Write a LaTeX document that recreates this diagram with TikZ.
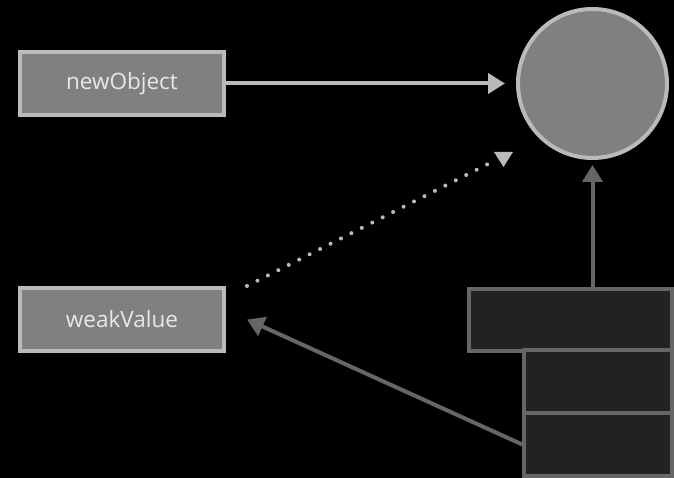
\documentclass[tikz,border=0pt]{standalone}
\usepackage{fontspec}
\setmainfont{Open Sans}
\usetikzlibrary{arrows.meta}
\definecolor{objFill}{HTML}{808080}
\definecolor{objEdge}{HTML}{BABABA}
\definecolor{labelText}{HTML}{E8E8E8}
\definecolor{frameFill}{HTML}{222222}
\definecolor{frameEdge}{HTML}{666666}

\begin{document}
\begin{tikzpicture}[x=1pt, y=-1pt, font=\fontsize{22.5}{27}\selectfont,
  varbox/.style={draw=objEdge, fill=objFill, line width=4pt, text=labelText,
    minimum width=204pt, minimum height=63pt, inner sep=0pt},
  frame/.style={draw=frameEdge, fill=frameFill, line width=4pt,
    minimum width=148pt, minimum height=63pt, inner sep=0pt},
  strongref/.style={line width=4pt, -{Triangle[length=17pt,width=20pt]}}]
  \fill[black] (0,0) rectangle (674,478);
  \useasboundingbox (0,0) rectangle (674,478);

  \node[varbox] (newobj) at (122,83.5) {newObject};
  \node[varbox] (weakval) at (122,319.5) {weakValue};
  \node[circle, draw=objEdge, fill=objFill, line width=4pt, minimum size=149pt,
    inner sep=0pt] (obj) at (592.5,83.5) {};

  % stack frames
  \node[frame, minimum width=203pt, minimum height=62pt] (frame1) at (570.5,319.5) {};
  \node[frame] (frame2) at (598.3,381.5) {};
  \node[frame] (frame3) at (598.3,444.5) {};

  % references
  \draw[strongref, objEdge, shorten >=11pt] (newobj.east) -- (newobj.east -| obj.west);
  \draw[strongref, frameEdge, shorten >=5pt] (frame1.north -| obj.south) -- (obj.south);
  \draw[strongref, frameEdge] (frame3.west) -- ([xshift=21pt]weakval.east);

  % weak reference
  \coordinate (dotend) at (488,164);
  \draw[objEdge, line width=4pt, line cap=round, dash pattern=on 0pt off 11.7pt]
    ([xshift=21pt]weakval.north east) -- (dotend);
  \fill[objEdge] (494,152) -- (513,152) -- (503.5,167) -- cycle;
\end{tikzpicture}
\end{document}
